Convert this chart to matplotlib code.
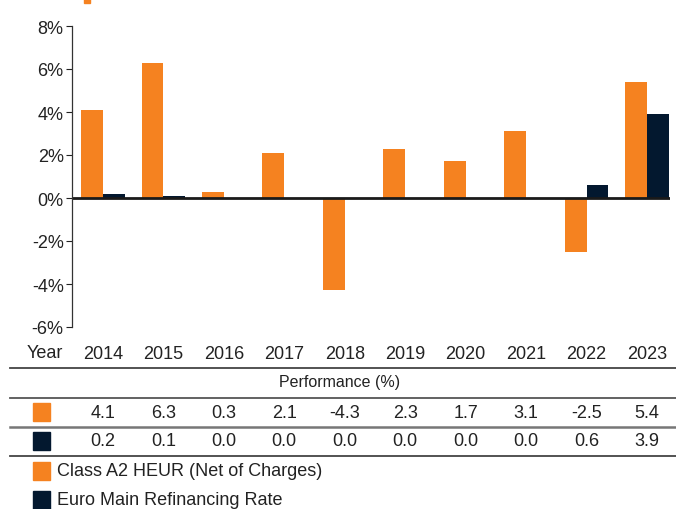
import matplotlib.pyplot as plt
import matplotlib.transforms as mtransforms
from matplotlib.lines import Line2D
from matplotlib.patches import Rectangle
import numpy as np

# data
years = ['2014', '2015', '2016', '2017', '2018', '2019', '2020', '2021', '2022', '2023']
fund = [4.1, 6.3, 0.3, 2.1, -4.3, 2.3, 1.7, 3.1, -2.5, 5.4]
rate = [0.2, 0.1, 0.0, 0.0, 0.0, 0.0, 0.0, 0.0, 0.6, 3.9]
yticks = [-6, -4, -2, 0, 2, 4, 6, 8]
series_names = ['Class A2 HEUR (Net of Charges)', 'Euro Main Refinancing Rate']

orange = '#F58220'
navy = '#03182F'
txt = '#222222'

plt.rcParams['font.family'] = ['Liberation Sans', 'DejaVu Sans']

W, H = 676, 510
fig = plt.figure(figsize=(W / 100, H / 100), dpi=100)

def fy(py):
    return 1 - py / H

ax = fig.add_axes([72 / W, fy(328), (670 - 72) / W, fy(27) - fy(328)])

x = np.arange(len(years))
width = 0.36
ax.bar(x - width / 2, fund, width, color=orange)
ax.bar(x + width / 2, rate, width, color=navy)
ax.axhline(0, color='#1a1a1a', lw=2)

ax.set_xlim(-0.51, 9.38)
ax.set_ylim(-6, 8)
ax.set_yticks(yticks)
ax.set_yticklabels([f'{v}%' for v in yticks])
ax.tick_params(axis='y', length=4, width=0.8, pad=2, labelsize=13, colors=txt)
ax.set_xticks(x)
ax.set_xticklabels(years)
ax.tick_params(axis='x', length=0, pad=13, labelsize=13, colors=txt)
for s in ['top', 'right', 'bottom']:
    ax.spines[s].set_visible(False)
ax.spines['left'].set_color('#333333')
ax.spines['left'].set_linewidth(0.9)

fig.text(45 / W, fy(354), 'Year', ha='center', va='center', fontsize=13, color=txt)

# table beneath
trans = mtransforms.blended_transform_factory(ax.transData, fig.transFigure)
for py, c, lw in [(369, '#444444', 1.3), (399, '#555555', 1.3), (428, '#777777', 1.8), (457, '#444444', 1.3)]:
    fig.add_artist(Line2D([10 / W, 1], [fy(py), fy(py)], color=c, lw=lw))

fig.text(340 / W, fy(383), 'Performance (%)', ha='center', va='center', fontsize=11.5, color=txt)

for vals, py, c, sq in [(fund, 414, orange, 404), (rate, 442, navy, 433)]:
    fig.add_artist(Rectangle((33 / W, fy(sq + 18)), 17 / W, 18 / H, color=c, transform=fig.transFigure))
    for i, v in enumerate(vals):
        ax.text(i, fy(py), f'{v:.1f}', transform=trans, ha='center', va='center', fontsize=13, color=txt)

for name, c, sq, py in [(series_names[0], orange, 463, 471), (series_names[1], navy, 492, 501)]:
    fig.add_artist(Rectangle((33 / W, fy(sq + 18)), 17 / W, 18 / H, color=c, transform=fig.transFigure))
    fig.text(57 / W, fy(py), name, ha='left', va='center', fontsize=13, color=txt)

# cut-off title marker at top
fig.add_artist(Rectangle((84 / W, fy(4)), 6 / W, 4 / H, color=orange, transform=fig.transFigure))

fig.savefig('out.png', dpi=100)
